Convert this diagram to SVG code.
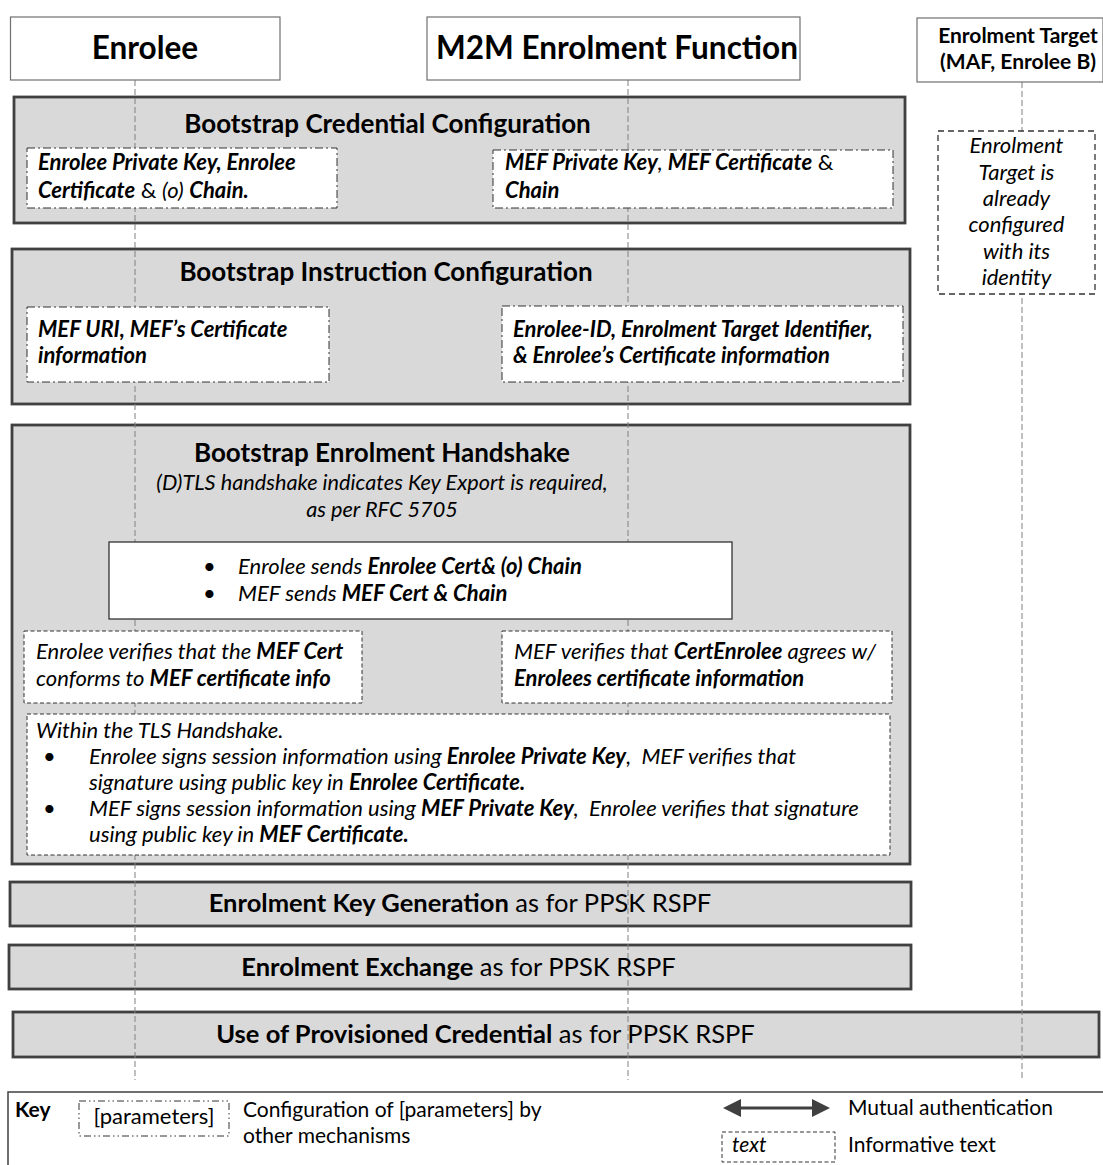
<svg xmlns="http://www.w3.org/2000/svg" width="1103" height="1165" viewBox="0 0 1103 1165">
<style>
text{font-family:Lato,"Open Sans","DejaVu Sans",sans-serif;fill:#000}
.hd{fill:#fff;stroke:#707070;stroke-width:1.2}
.sec{fill:#d9d9d9;stroke:#404040;stroke-width:2.8}
.cfg{fill:#fff;stroke:#333;stroke-width:1;stroke-dasharray:8 3 2 3}
.inf{fill:#fff;stroke:#333;stroke-width:1;stroke-dasharray:4 2.5}
.sol{fill:#fff;stroke:#333;stroke-width:1.3}
.life{stroke:#808080;stroke-width:1;stroke-dasharray:6 3;fill:none}
.h1{font-size:31.5px;font-weight:bold}
.h2{font-size:21px;font-weight:bold}
.tt{font-size:26px;font-weight:bold}
.bt{font-size:25.5px;font-weight:normal}
.bx{font-size:22px}
.b{font-weight:bold}
.bi{font-weight:bold;font-style:italic}
.it{font-style:italic}
.rg{font-style:normal;font-weight:normal}
.ky{font-size:21px}
</style>

<!-- section backgrounds -->
<g id="sec-credential"><rect class="sec" x="14" y="97" width="891" height="126"/></g>
<g id="sec-instruction"><rect class="sec" x="12" y="249" width="898" height="155"/></g>
<g id="sec-handshake"><rect class="sec" x="12" y="425" width="898" height="439"/></g>
<g id="sec-keygen"><rect class="sec" x="10" y="882" width="901" height="44"/></g>
<g id="sec-exchange"><rect class="sec" x="9" y="945" width="902" height="44"/></g>
<g id="sec-use"><rect class="sec" x="13" y="1012" width="1086" height="45"/></g>

<!-- lifelines -->
<g id="connectors">
<line class="life" x1="135" y1="80" x2="135" y2="1080"/>
<line class="life" x1="628" y1="80" x2="628" y2="1080"/>
<line class="life" x1="1022" y1="82" x2="1022" y2="1078"/>
</g>

<!-- headers -->
<g id="hdr-enrolee"><rect class="hd" x="10.5" y="17" width="269.5" height="63"/><text class="h1" x="145" y="59" text-anchor="middle">Enrolee</text></g>
<g id="hdr-mef"><rect class="hd" x="427" y="17" width="373" height="63"/><text class="h1" x="617" y="59" text-anchor="middle">M2M Enrolment Function</text></g>
<g id="hdr-target"><rect class="hd" x="917" y="18" width="186" height="64"/><text class="h2" x="1018" y="43" text-anchor="middle">Enrolment Target</text><text class="h2" x="1018" y="69" text-anchor="middle">(MAF, Enrolee B)</text></g>

<!-- target informative -->
<g id="target-info">
<rect class="inf" x="938" y="131" width="157" height="163" style="stroke-dasharray:6 4;stroke-width:1.3"/>
<text class="bx it" text-anchor="middle" x="1016.5" y="153">Enrolment</text>
<text class="bx it" text-anchor="middle" x="1016.5" y="180">Target is</text>
<text class="bx it" text-anchor="middle" x="1016.5" y="206">already</text>
<text class="bx it" text-anchor="middle" x="1016.5" y="232">configured</text>
<text class="bx it" text-anchor="middle" x="1016.5" y="259">with its</text>
<text class="bx it" text-anchor="middle" x="1016.5" y="285">identity</text>
</g>

<!-- section 1 -->
<g id="credential-content">
<text class="tt" x="387.5" y="133" text-anchor="middle">Bootstrap Credential Configuration</text>
<rect class="cfg" x="27" y="148" width="310" height="60"/>
<text class="bx" x="38" y="170"><tspan class="bi">Enrolee Private Key, Enrolee</tspan></text>
<text class="bx" x="38" y="198"><tspan class="bi">Certificate</tspan> <tspan class="rg">&amp;</tspan> <tspan class="it">(o)</tspan> <tspan class="bi">Chain.</tspan></text>
<rect class="cfg" x="493" y="150" width="400" height="58"/>
<text class="bx" x="505" y="170"><tspan class="bi">MEF Private Key</tspan><tspan class="it">, </tspan><tspan class="bi">MEF Certificate</tspan> <tspan class="rg">&amp;</tspan></text>
<text class="bx" x="505" y="198"><tspan class="bi">Chain</tspan></text>
</g>

<!-- section 2 -->
<g id="instruction-content">
<text class="tt" x="386" y="281" text-anchor="middle">Bootstrap Instruction Configuration</text>
<rect class="cfg" x="27" y="307" width="302" height="75"/>
<text class="bx bi" x="38" y="337">MEF URI, MEF’s Certificate</text>
<text class="bx bi" x="38" y="363">information</text>
<rect class="cfg" x="502" y="306" width="401" height="76"/>
<text class="bx bi" x="513" y="337">Enrolee-ID, Enrolment Target Identifier,</text>
<text class="bx bi" x="513" y="363">&amp; Enrolee’s Certificate information</text>
</g>

<!-- section 3 -->
<g id="handshake-content">
<text class="tt" x="382" y="462" text-anchor="middle">Bootstrap Enrolment Handshake</text>
<text class="bx it" x="382" y="490" text-anchor="middle" style="font-size:21.7px">(D)TLS handshake indicates Key Export is required,</text>
<text class="bx it" x="382" y="517" text-anchor="middle" style="font-size:21.7px">as per RFC 5705</text>
</g>
<g id="cert-exchange">
<rect class="sol" x="109" y="542" width="623" height="77"/>
<text class="bx" x="203" y="574">•</text>
<text class="bx" x="238" y="574"><tspan class="it">Enrolee sends </tspan><tspan class="bi">Enrolee Cert&amp; (o) Chain</tspan></text>
<text class="bx" x="203" y="601">•</text>
<text class="bx" x="238" y="601"><tspan class="it">MEF sends </tspan><tspan class="bi">MEF Cert &amp; Chain</tspan></text>
</g>
<g id="enrolee-verifies">
<rect class="inf" x="24" y="631" width="338" height="72"/>
<text class="bx" x="36" y="659"><tspan class="it">Enrolee verifies that the </tspan><tspan class="bi">MEF Cert</tspan></text>
<text class="bx" x="36" y="686"><tspan class="it">conforms to </tspan><tspan class="bi">MEF certificate info</tspan></text>
</g>
<g id="mef-verifies">
<rect class="inf" x="502" y="631" width="390" height="72"/>
<text class="bx" x="514" y="659"><tspan class="it">MEF verifies that </tspan><tspan class="bi">CertEnrolee</tspan><tspan class="it"> agrees w/</tspan></text>
<text class="bx" x="514" y="686"><tspan class="bi">Enrolees certificate information</tspan></text>
</g>
<g id="tls-signing">
<rect class="inf" x="27" y="714" width="863" height="141"/>
<text class="bx it" x="36" y="738">Within the TLS Handshake.</text>
<text class="bx" x="43" y="764">•</text>
<text class="bx" x="89" y="764" xml:space="preserve"><tspan class="it">Enrolee signs session information using </tspan><tspan class="bi">Enrolee Private Key</tspan><tspan class="it">,  MEF verifies that</tspan></text>
<text class="bx" x="89" y="790"><tspan class="it">signature using public key in </tspan><tspan class="bi">Enrolee Certificate.</tspan></text>
<text class="bx" x="43" y="816">•</text>
<text class="bx" x="89" y="816" xml:space="preserve"><tspan class="it">MEF signs session information using </tspan><tspan class="bi">MEF Private Key</tspan><tspan class="it">,  Enrolee verifies that signature</tspan></text>
<text class="bx" x="89" y="842"><tspan class="it">using public key in </tspan><tspan class="bi">MEF Certificate.</tspan></text>
</g>

<!-- bottom sections text -->
<g id="keygen-content"><text class="bt" x="460" y="912" text-anchor="middle"><tspan class="b">Enrolment Key Generation</tspan> as for PPSK RSPF</text></g>
<g id="exchange-content"><text class="bt" x="458.5" y="976" text-anchor="middle"><tspan class="b">Enrolment Exchange</tspan> as for PPSK RSPF</text></g>
<g id="use-content"><text class="bt" x="485.5" y="1043" text-anchor="middle"><tspan class="b">Use of Provisioned Credential</tspan> as for PPSK RSPF</text></g>

<!-- key -->
<g id="key">
<path d="M1103 1092 H8 V1165" fill="none" stroke="#404040" stroke-width="1.5"/>
<text class="ky b" x="15" y="1117">Key</text>
<rect class="cfg" x="79" y="1101" width="150" height="35" style="stroke-dasharray:7 3 1.5 3 1.5 3"/>
<text class="ky" x="154" y="1124" text-anchor="middle" style="font-size:22px">[parameters]</text>
<text class="ky" x="243" y="1117">Configuration of [parameters] by</text>
<text class="ky" x="243" y="1143">other mechanisms</text>
<path d="M723 1108 L741 1099 V1106.5 H812 V1099 L830 1108 L812 1117 V1109.5 H741 V1117 Z" fill="#404040"/>
<text class="ky" x="848" y="1115">Mutual authentication</text>
<rect class="inf" x="722" y="1132" width="113" height="30"/>
<text class="ky it" x="732" y="1152">text</text>
<text class="ky" x="848" y="1152">Informative text</text>
</g>
</svg>
